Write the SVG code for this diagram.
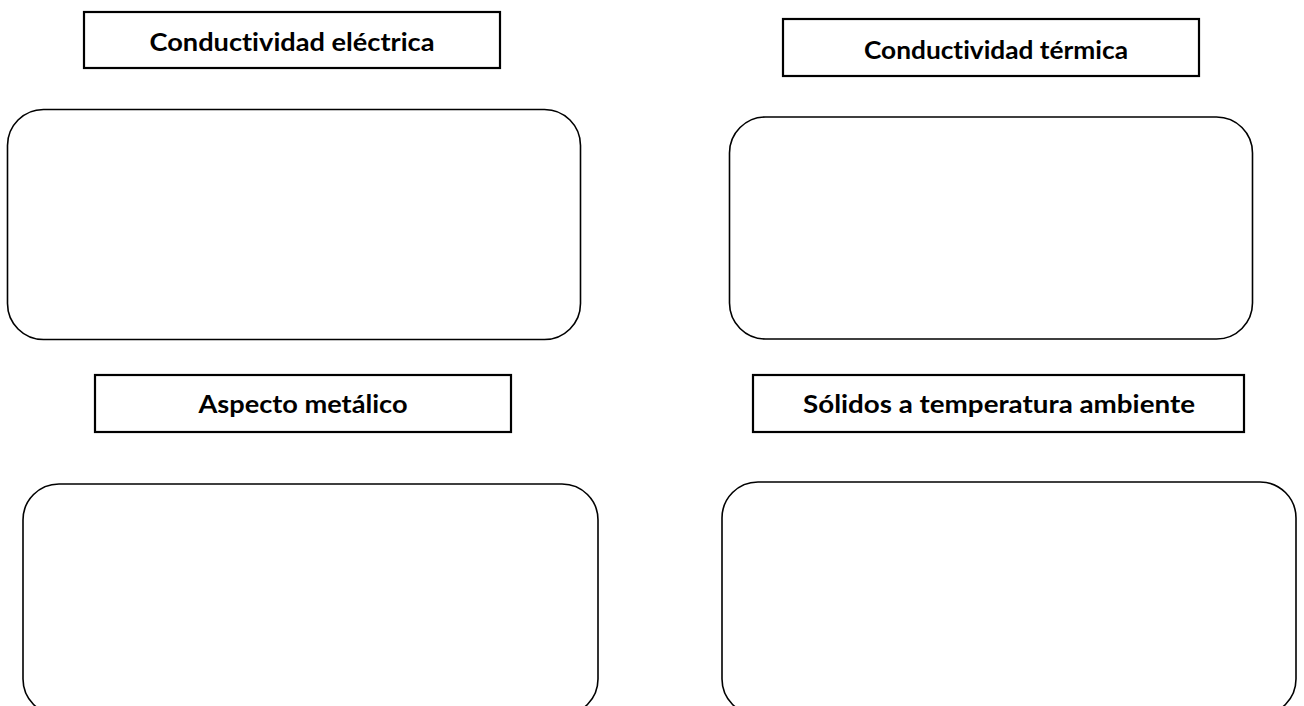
<svg xmlns="http://www.w3.org/2000/svg" width="1304" height="706" viewBox="0 0 1304 706">
<style>
.title{fill:#fff;stroke:#000;stroke-width:2.2}
.panel{fill:#fff;stroke:#000;stroke-width:1.6}
.lbl{font-family:Lato,"Open Sans","Liberation Sans",sans-serif;font-weight:bold;font-size:24.5px;fill:#000;text-anchor:middle;font-variant-ligatures:none;font-feature-settings:"liga" 0}
</style>
<rect width="1304" height="706" fill="#fff"/>
<g id="connectors"></g>
<g id="title-electrica">
<rect class="title" x="84" y="12" width="416" height="56"/>
<text class="lbl" x="292" y="50.5" textLength="285" lengthAdjust="spacingAndGlyphs">Conductividad eléctrica</text>
</g>
<g id="panel-electrica">
<rect class="panel" x="7.5" y="109.5" width="573" height="230" rx="36" ry="36"/>
</g>
<g id="title-termica">
<rect class="title" x="783" y="19" width="416" height="57"/>
<text class="lbl" x="996" y="59" textLength="264" lengthAdjust="spacingAndGlyphs">Conductividad térmica</text>
</g>
<g id="panel-termica">
<rect class="panel" x="729.5" y="117" width="523" height="222" rx="36" ry="36"/>
</g>
<g id="title-aspecto">
<rect class="title" x="95" y="375" width="416" height="57"/>
<text class="lbl" x="303" y="413" textLength="209" lengthAdjust="spacingAndGlyphs">Aspecto metálico</text>
</g>
<g id="panel-aspecto">
<rect class="panel" x="23" y="484" width="575" height="231" rx="36" ry="36"/>
</g>
<g id="title-solidos">
<rect class="title" x="753" y="375" width="491" height="57"/>
<text class="lbl" x="999" y="413" textLength="392" lengthAdjust="spacingAndGlyphs">Sólidos a temperatura ambiente</text>
</g>
<g id="panel-solidos">
<rect class="panel" x="722" y="482" width="574" height="233" rx="36" ry="36"/>
</g>
</svg>
